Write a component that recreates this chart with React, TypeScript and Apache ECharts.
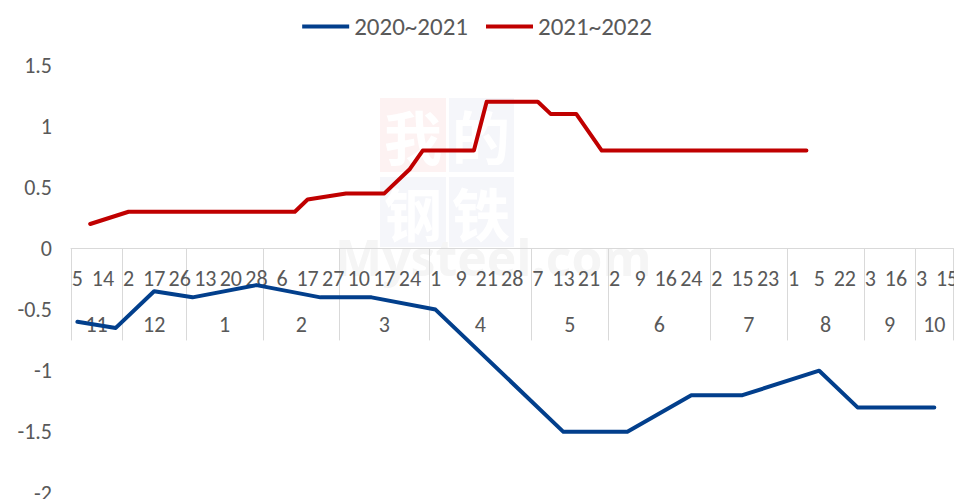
import React, { useEffect, useRef } from "react";
import * as echarts from "echarts";

// Inner level of the category axis: the day labels Excel shows (every other category)
const dayLabels = [
  "5", "14",
  "2", "17", "26",
  "13", "20", "28",
  "6", "17", "27",
  "10", "17", "24",
  "1", "9", "21", "28",
  "7", "13", "21",
  "2", "9", "16", "24",
  "2", "15", "23",
  "1", "5", "22",
  "3", "16",
  "3", "15",
];
// Outer level: months and how many categories each month holds
const monthNames = ["11", "12", "1", "2", "3", "4", "5", "6", "7", "8", "9", "10"];
const monthSizes = [4, 5, 6, 6, 7, 8, 6, 8, 6, 6, 4, 3];

const seriesNames = ["2020~2021", "2021~2022"];
// [category index, value]
const series2020: [number, number][] = [
  [0, -0.6], [3, -0.65], [6, -0.35], [9, -0.4], [14, -0.3], [19, -0.4], [23, -0.4],
  [28, -0.5], [38, -1.5], [43, -1.5], [48, -1.2], [52, -1.2], [58, -1.0], [61, -1.3], [67, -1.3],
];
const series2021: [number, number][] = [
  [1, 0.2], [4, 0.3], [17, 0.3], [18, 0.4], [21, 0.45], [24, 0.45], [26, 0.65], [27, 0.8],
  [31, 0.8], [32, 1.2], [36, 1.2], [37, 1.1], [39, 1.1], [41, 0.8], [57, 0.8],
];
const yMin = -2;
const yMax = 1.5;
const yStep = 0.5;

const FONT = "Carlito, Calibri, Lato, sans-serif";
const TEXT_COLOR = "#595959";
const GRID_COLOR = "#d9d9d9";
const W = 954;
const H = 499;
const GRID = { left: 71, right: 0.5, top: 65, bottom: 6 };
const FS = 22;

export default function App() {
  const ref = useRef<HTMLDivElement>(null);

  useEffect(() => {
    if (!ref.current) return;
    const chart = echarts.init(ref.current, undefined, { renderer: "svg" });

    const total = monthSizes.reduce((a, b) => a + b, 0);
    const dayCats = Array.from({ length: total }, (_, i) =>
      i % 2 === 0 ? dayLabels[i / 2] ?? "" : ""
    );

    // month level: half-category slots, boundaryGap false
    const boundaries = new Set<number>();
    const centers: Record<number, string> = {};
    let s = 0;
    monthSizes.forEach((size, m) => {
      boundaries.add(2 * s);
      centers[2 * s + size] = monthNames[m];
      s += size;
    });
    boundaries.add(2 * s);
    const monthSlots = Array.from({ length: 2 * total + 1 }, (_, k) => centers[k] ?? "");

    // lift the category axes from the grid bottom to the value 0
    const gridH = H - GRID.top - GRID.bottom;
    const zeroOffset = -(gridH * (0 - yMin)) / (yMax - yMin);

    chart.setOption({
      animation: false,
      textStyle: { fontFamily: FONT },
      legend: {
        data: seriesNames,
        top: 9,
        left: "center",
        icon: "rect",
        itemWidth: 47,
        itemHeight: 4,
        itemGap: 18,
        textStyle: { fontSize: 25, color: TEXT_COLOR, fontFamily: FONT },
      },
      grid: { ...GRID, containLabel: false, outerBoundsMode: "none" },
      xAxis: [
        {
          type: "category",
          data: dayCats,
          boundaryGap: true,
          position: "bottom",
          offset: zeroOffset,
          axisLine: { show: true, onZero: false, lineStyle: { color: GRID_COLOR, width: 1 } },
          axisTick: { show: false },
          axisLabel: {
            interval: 1,
            margin: 19,
            fontSize: FS,
            lineHeight: FS,
            color: TEXT_COLOR,
            fontFamily: FONT,
          },
          splitLine: { show: false },
        },
        {
          type: "category",
          data: monthSlots,
          boundaryGap: false,
          position: "bottom",
          offset: zeroOffset,
          axisLine: { show: false, onZero: false },
          axisTick: {
            show: true,
            length: 92,
            interval: (idx: number) => boundaries.has(idx),
            lineStyle: { color: GRID_COLOR, width: 1 },
          },
          axisLabel: {
            interval: (idx: number) => centers[idx] !== undefined,
            margin: 65,
            fontSize: FS,
            lineHeight: FS,
            color: TEXT_COLOR,
            fontFamily: FONT,
          },
          splitLine: { show: false },
        },
      ],
      yAxis: {
        type: "value",
        min: yMin,
        max: yMax,
        interval: yStep,
        axisLine: { show: false },
        axisTick: { show: false },
        splitLine: { show: false },
        axisLabel: { fontSize: FS, color: TEXT_COLOR, margin: 19, fontFamily: FONT },
      },
      graphic: [
        { type: "rect", z: -10, silent: true, shape: { x: 380, y: 98, width: 66, height: 74 }, style: { fill: "#fdf2f2" } },
        { type: "rect", z: -10, silent: true, shape: { x: 449, y: 98, width: 65, height: 74 }, style: { fill: "#f5f6fa" } },
        { type: "rect", z: -10, silent: true, shape: { x: 380, y: 177, width: 66, height: 70 }, style: { fill: "#f5f6fa" } },
        { type: "rect", z: -10, silent: true, shape: { x: 449, y: 177, width: 65, height: 70 }, style: { fill: "#f5f6fa" } },
        { type: "text", z: -9, silent: true, style: { text: "我", x: 413, y: 135, align: "center", verticalAlign: "middle", fontSize: 58, fontWeight: "bold", fill: "#ffffff", fontFamily: "Noto Sans CJK SC" } },
        { type: "text", z: -9, silent: true, style: { text: "的", x: 481, y: 135, align: "center", verticalAlign: "middle", fontSize: 58, fontWeight: "bold", fill: "#ffffff", fontFamily: "Noto Sans CJK SC" } },
        { type: "text", z: -9, silent: true, style: { text: "钢", x: 413, y: 212, align: "center", verticalAlign: "middle", fontSize: 58, fontWeight: "bold", fill: "#ffffff", fontFamily: "Noto Sans CJK SC" } },
        { type: "text", z: -9, silent: true, style: { text: "铁", x: 481, y: 212, align: "center", verticalAlign: "middle", fontSize: 58, fontWeight: "bold", fill: "#ffffff", fontFamily: "Noto Sans CJK SC" } },
        { type: "text", z: -9, silent: true, style: { text: "Mysteel.com", x: 335, y: 232, fontSize: 50, fontWeight: "bold", fill: "#f5f5f5", fontFamily: "Open Sans" } },
      ],
      series: [
        {
          name: seriesNames[0],
          type: "line",
          xAxisIndex: 0,
          yAxisIndex: 0,
          data: series2020,
          symbol: "none",
          z: 3,
          lineStyle: { color: "#023f8c", width: 4, cap: "round", join: "round" },
          itemStyle: { color: "#023f8c" },
        },
        {
          name: seriesNames[1],
          type: "line",
          xAxisIndex: 0,
          yAxisIndex: 0,
          data: series2021,
          symbol: "none",
          z: 3,
          lineStyle: { color: "#c00000", width: 4, cap: "round", join: "round" },
          itemStyle: { color: "#c00000" },
        },
      ],
    });

    return () => chart.dispose();
  }, []);

  return (
    <div
      ref={ref}
      style={{ position: "fixed", left: 0, top: 0, width: W, height: H, background: "#ffffff" }}
    />
  );
}
